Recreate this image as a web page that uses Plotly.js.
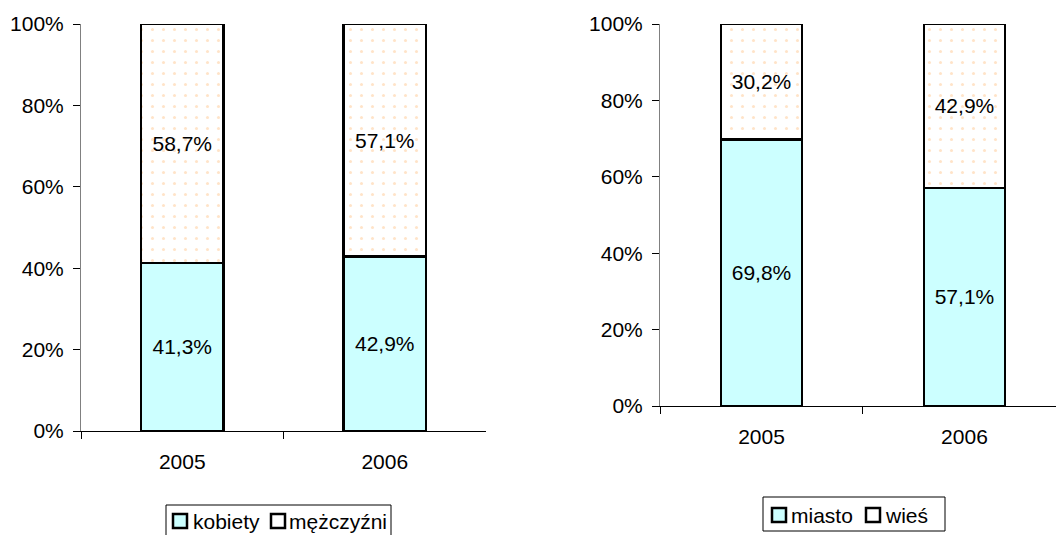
<!DOCTYPE html>
<html>
<head>
<meta charset="utf-8">
<script src="https://cdn.plot.ly/plotly-3.0.1.min.js"></script>
<style>html,body{margin:0;padding:0;background:#fff}#chart{width:1056px;height:535px}</style>
</head>
<body>
<div id="chart"></div>
<script>
const years = ['2005', '2006'];
const kobiety = [41.3, 42.9];
const mezczyzni = [58.7, 57.1];
const miasto = [69.8, 57.1];
const wies = [30.2, 42.9];
const yTicks = [0, 20, 40, 60, 80, 100];
const leftNames = ['kobiety', 'mężczyźni'];
const rightNames = ['miasto', 'wieś'];

const W = 1056, H = 535;
const FONT = 'Liberation Sans, Arial, sans-serif';
const fmt = v => v.toFixed(1).replace('.', ',') + '%';
const cyan = '#CCFFFF';
const dotted = {shape: '.', fgcolor: '#FFC891', bgcolor: '#FFFFFF', size: 11, solidity: 0.06, fillmode: 'overlay'};
const line = {color: '#000000', width: 2.5};

function bar(name, y, xa, ya, pattern, w) {
  const m = {color: pattern ? '#FFFFFF' : cyan, line: line};
  if (pattern) m.pattern = pattern;
  return {
    type: 'bar', name: name, x: years, y: y, xaxis: xa, yaxis: ya, showlegend: false,
    width: years.map(() => w),
    text: y.map(fmt), textposition: 'inside', insidetextanchor: 'middle',
    textangle: 0, constraintext: 'none',
    textfont: {family: FONT, size: 21, color: '#000'},
    marker: m, hoverinfo: 'skip'
  };
}

const data = [
  bar(leftNames[0], kobiety, 'x', 'y', null, 0.405),
  bar(leftNames[1], mezczyzni, 'x', 'y', dotted, 0.405),
  bar(rightNames[0], miasto, 'x2', 'y2', null, 0.4),
  bar(rightNames[1], wies, 'x2', 'y2', dotted, 0.4)
];

const xax = (dom, rng, anchor) => ({
  domain: dom, range: rng, anchor: anchor, type: 'category',
  showline: true, linecolor: '#000', linewidth: 1,
  ticks: 'outside', tickson: 'boundaries', ticklen: 7, tickcolor: '#000', tickwidth: 1,
  ticklabelstandoff: 12,
  showgrid: false, zeroline: false, fixedrange: true,
  tickfont: {family: FONT, size: 21, color: '#000'}
});
const yax = (dom, anchor) => ({
  domain: dom, range: [0, 100], anchor: anchor,
  tickvals: yTicks, ticktext: yTicks.map(v => v + '%'),
  showline: true, linecolor: '#808080', linewidth: 1,
  ticks: 'outside', ticklen: 7, tickcolor: '#000', tickwidth: 1,
  ticklabelstandoff: 5,
  showgrid: false, zeroline: false, fixedrange: true,
  tickfont: {family: FONT, size: 21, color: '#000'}
});

// custom legends (pixel spec -> paper coords)
const px = x => x / W, py = y => (H - y) / H;
const shapes = [], annotations = [];
function legendBox(x0, y0, x1, y1) {
  shapes.push({type: 'rect', xref: 'paper', yref: 'paper', x0: px(x0), x1: px(x1), y0: py(y1), y1: py(y0),
    line: {color: '#000', width: 1}, fillcolor: '#fff', layer: 'above'});
}
function legendItem(name, fill, sx, sy, tx) {
  shapes.push({type: 'rect', xref: 'paper', yref: 'paper', x0: px(sx), x1: px(sx + 14), y0: py(sy + 14), y1: py(sy),
    line: {color: '#000', width: 2.5}, fillcolor: fill, layer: 'above'});
  annotations.push({xref: 'paper', yref: 'paper', x: px(tx), y: py(sy + 7.5), xanchor: 'left', yanchor: 'middle',
    text: name, showarrow: false, borderpad: 0, font: {family: FONT, size: 21, color: '#000'}});
}
legendBox(166, 505, 391, 545);
legendItem(leftNames[0], cyan, 173, 514, 192);
legendItem(leftNames[1], '#fff', 271, 514, 288);
legendBox(763, 497, 945, 531);
legendItem(rightNames[0], cyan, 772, 508, 790);
legendItem(rightNames[1], '#fff', 866, 508, 884);

const layout = {
  width: W, height: H,
  margin: {l: 0, r: 0, t: 0, b: 0, autoexpand: false},
  paper_bgcolor: '#fff', plot_bgcolor: 'rgba(0,0,0,0)',
  barmode: 'stack', showlegend: false,
  font: {family: FONT, size: 21, color: '#000'},
  xaxis: xax([81/W, 486/W], [-0.5, 1.5], 'y'),
  yaxis: yax([104/H, 511/H], 'x'),
  xaxis2: xax([660/W, 1], [-0.5, 1.451], 'y2'),
  yaxis2: yax([129/H, 511/H], 'x2'),
  shapes: shapes, annotations: annotations
};

Plotly.newPlot('chart', data, layout, {staticPlot: true, displayModeBar: false});
</script>
</body>
</html>
